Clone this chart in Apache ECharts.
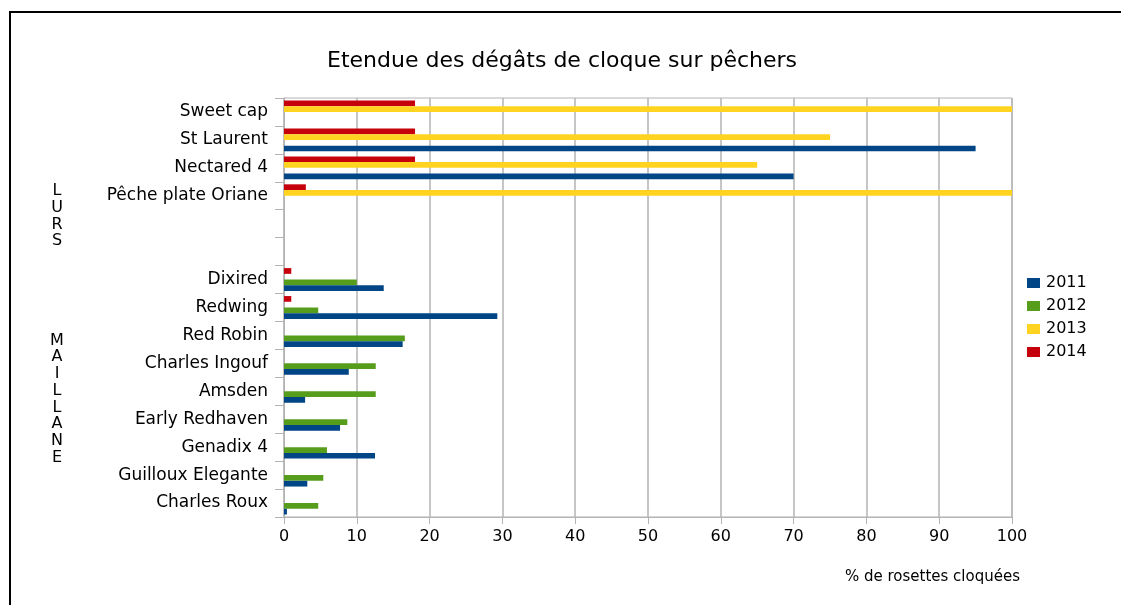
<!DOCTYPE html>
<html>
<head>
<meta charset="utf-8">
<script src="https://cdn.jsdelivr.net/npm/echarts@6/dist/echarts.min.js"></script>
<style>
html,body{margin:0;padding:0;background:#fff;}
#chart{width:1121px;height:605px;}
</style>
</head>
<body>
<div id="chart"></div>
<script>
// Categories listed top to bottom as they appear in the chart
const categories = ['Sweet cap', 'St Laurent', 'Nectared 4', 'Pêche plate Oriane', ' ', '  ',
  'Dixired', 'Redwing', 'Red Robin', 'Charles Ingouf', 'Amsden', 'Early Redhaven',
  'Genadix 4', 'Guilloux Elegante', 'Charles Roux'];
const years = ['2011', '2012', '2013', '2014'];
const values2011 = [null, 95, 70, null, null, null, 13.7, 29.3, 16.3, 8.9, 2.9, 7.7, 12.5, 3.2, 0.4];
const values2012 = [null, null, null, null, null, null, 10, 4.7, 16.6, 12.6, 12.6, 8.7, 5.9, 5.4, 4.7];
const values2013 = [100, 75, 65, 100, null, null, null, null, null, null, null, null, null, null, null];
const values2014 = [18, 18, 18, 3, null, null, 1, 1, null, null, null, null, null, null, null];
const xTicks = ['0','10','20','30','40','50','60','70','80','90','100'];
const colors = ['#004586', '#579d1c', '#ffd320', '#c5000b'];

const FONT = 'DejaVu Sans';
const seriesValues = [values2011, values2012, values2013, values2014];
// ECharts places the first bar series at the top of each band; reverse so 2011 is at the bottom
const order = [3, 2, 1, 0];
const chart = echarts.init(document.getElementById('chart'));
chart.setOption({
  animation: false,
  backgroundColor: '#ffffff',
  textStyle: { fontFamily: FONT },
  title: {
    text: 'Etendue des dégâts de cloque sur pêchers',
    left: 557, textAlign: 'center', top: 45,
    textStyle: { fontFamily: FONT, fontSize: 22, fontWeight: 'normal', color: '#000' }
  },
  legend: {
    orient: 'vertical', left: 1022, top: 270,
    itemWidth: 13, itemHeight: 10, itemGap: 7,
    icon: 'rect',
    data: years,
    textStyle: { fontFamily: FONT, fontSize: 16, color: '#000', padding: [0, 0, 0, 1] }
  },
  grid: {
    left: 284, top: 98, width: 728, height: 419,
    show: true, borderColor: '#b3b3b3', borderWidth: 1
  },
  xAxis: {
    type: 'value', min: 0, max: 100, interval: 10,
    axisLine: { show: true, lineStyle: { color: '#b3b3b3' } },
    axisTick: { show: true, length: 7, lineStyle: { color: '#b3b3b3' } },
    splitLine: { show: true, lineStyle: { color: '#b3b3b3', width: 1.5 } },
    axisLabel: { fontFamily: FONT, fontSize: 16, color: '#000', margin: 12,
      formatter: (v) => xTicks[Math.round(v / 10)] }
  },
  yAxis: {
    type: 'category',
    data: categories.slice().reverse(),
    axisLine: { show: true, lineStyle: { color: '#b3b3b3' } },
    axisTick: { show: true, length: 9, lineStyle: { color: '#b3b3b3' } },
    axisLabel: { fontFamily: FONT, fontSize: 17, color: '#000', margin: 16, interval: 0 }
  },
  graphic: [
    { type: 'rect', shape: { x: 10, y: 12, width: 1300, height: 800 },
      style: { fill: 'none', stroke: '#000', lineWidth: 2 }, silent: true },
    { type: 'text', x: 57, y: 216,
      style: { text: 'L\nU\nR\nS', font: '16px "DejaVu Sans"', fill: '#000',
        textAlign: 'center', textVerticalAlign: 'middle', lineHeight: 16.7 } },
    { type: 'text', x: 57, y: 399,
      style: { text: 'M\nA\nI\nL\nL\nA\nN\nE', font: '16px "DejaVu Sans"', fill: '#000',
        textAlign: 'center', textVerticalAlign: 'middle', lineHeight: 16.7 } },
    { type: 'text', x: 1020, y: 577,
      style: { text: '% de rosettes cloquées', font: '15px "DejaVu Sans"', fill: '#000',
        textAlign: 'right', textVerticalAlign: 'middle' } }
  ],
  series: order.map((i) => ({
    name: years[i], type: 'bar',
    data: seriesValues[i].slice().reverse(),
    itemStyle: { color: colors[i] },
    barGap: '0%', barCategoryGap: '18%'
  }))
});
</script>
</body>
</html>
